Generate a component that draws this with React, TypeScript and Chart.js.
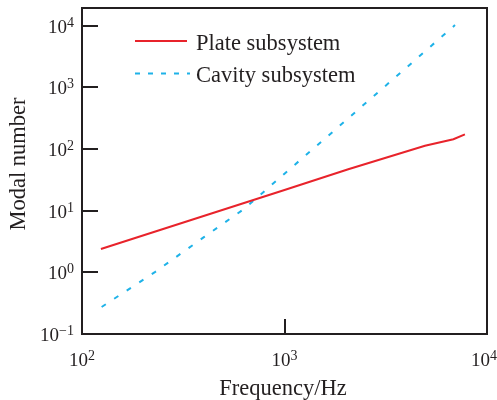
import React, { useEffect, useRef } from "react";
import { Chart, registerables } from "chart.js";

Chart.register(...registerables);

// Plate subsystem: modal count vs frequency
const PLATE_FREQ = [124, 1000, 2065, 4940, 6825, 7780];
const PLATE_MODES = [2.39, 21.7, 46.9, 113, 144, 173];

// Cavity subsystem: modal count vs frequency
const CAVITY_FREQ = [125, 230, 400, 630, 1000, 1600, 2400, 4000, 6950];
const CAVITY_MODES = [0.274, 1.02, 3.72, 10.6, 39.9, 152, 486, 2094, 10260];

// Axis ticks (powers of ten) and their exponents
const X_TICKS = [100, 1000, 10000];
const X_EXP = ["2", "3", "4"];
const Y_TICKS = [0.1, 1, 10, 100, 1000, 10000];
const Y_EXP = ["\u22121", "0", "1", "2", "3", "4"];

const SERIES_NAMES = ["Plate subsystem", "Cavity subsystem"];
const X_TITLE = "Frequency/Hz";
const Y_TITLE = "Modal number";

const RED = "#e8232b";
const BLUE = "#1eb2e8";
const INK = "#231f20";
const FONT = "'Liberation Serif', 'Times New Roman', serif";
const TEXT_FONT = `22.5px ${FONT}`;

function drawPower(
  ctx: CanvasRenderingContext2D,
  exp: string,
  x: number,
  y: number,
  align: "center" | "right",
  maxRight: number
) {
  ctx.save();
  ctx.fillStyle = INK;
  ctx.textBaseline = "alphabetic";
  ctx.textAlign = "left";
  ctx.font = `19px ${FONT}`;
  const wBase = ctx.measureText("10").width;
  ctx.font = `14px ${FONT}`;
  const wSup = ctx.measureText(exp).width;
  const total = wBase + wSup;
  let start = align === "center" ? x - total / 2 : x - total;
  if (start + total > maxRight) start = maxRight - total;
  const baseline = y + 7;
  ctx.font = `19px ${FONT}`;
  ctx.fillText("10", start, baseline);
  ctx.font = `14px ${FONT}`;
  ctx.fillText(exp, start + wBase, baseline - 6);
  ctx.restore();
}

const decorPlugin = {
  id: "decor",
  afterDraw(chart: any) {
    const ctx: CanvasRenderingContext2D = chart.ctx;
    const { left, right, top, bottom } = chart.chartArea;
    const xs = chart.scales.x;
    const ys = chart.scales.y;
    const edge = chart.width;

    ctx.save();
    // frame
    ctx.strokeStyle = INK;
    ctx.lineWidth = 2;
    ctx.strokeRect(left, top, right - left, bottom - top);

    // inward ticks on left axis
    Y_TICKS.forEach((v) => {
      const py = Math.round(ys.getPixelForValue(v));
      if (py <= top + 1 || py >= bottom - 1) return;
      ctx.beginPath();
      ctx.moveTo(left, py);
      ctx.lineTo(left + 16, py);
      ctx.stroke();
    });
    // inward ticks on bottom axis
    X_TICKS.forEach((v) => {
      const px = Math.round(xs.getPixelForValue(v));
      if (px <= left + 1 || px >= right - 1) return;
      ctx.beginPath();
      ctx.moveTo(px, bottom);
      ctx.lineTo(px, bottom - 15);
      ctx.stroke();
    });
    ctx.restore();

    // tick labels
    Y_TICKS.forEach((v, i) => {
      drawPower(ctx, Y_EXP[i], left - 8, ys.getPixelForValue(v), "right", edge);
    });
    X_TICKS.forEach((v, i) => {
      drawPower(ctx, X_EXP[i], xs.getPixelForValue(v), bottom + 25, "center", edge);
    });

    // axis titles
    ctx.save();
    ctx.fillStyle = INK;
    ctx.font = TEXT_FONT;
    ctx.textAlign = "center";
    ctx.textBaseline = "alphabetic";
    ctx.fillText(X_TITLE, 283, 395);
    ctx.translate(25, 164);
    ctx.rotate(-Math.PI / 2);
    ctx.fillText(Y_TITLE, 0, 0);
    ctx.restore();

    // legend
    ctx.save();
    ctx.lineWidth = 2;
    ctx.strokeStyle = RED;
    ctx.beginPath();
    ctx.moveTo(135, 41);
    ctx.lineTo(187, 41);
    ctx.stroke();
    ctx.strokeStyle = BLUE;
    ctx.setLineDash([5, 8]);
    ctx.beginPath();
    ctx.moveTo(135, 73.5);
    ctx.lineTo(190, 73.5);
    ctx.stroke();
    ctx.setLineDash([]);
    ctx.fillStyle = INK;
    ctx.font = TEXT_FONT;
    ctx.textAlign = "left";
    ctx.textBaseline = "alphabetic";
    ctx.fillText(SERIES_NAMES[0], 196, 50);
    ctx.fillText(SERIES_NAMES[1], 196, 82);
    ctx.restore();
  },
};

export default function App() {
  const canvasRef = useRef<HTMLCanvasElement | null>(null);

  useEffect(() => {
    if (!canvasRef.current) return;
    const chart = new Chart(canvasRef.current, {
      type: "line",
      data: {
        datasets: [
          {
            label: SERIES_NAMES[0],
            data: PLATE_FREQ.map((f, i) => ({ x: f, y: PLATE_MODES[i] })),
            borderColor: RED,
            borderWidth: 2,
            pointRadius: 0,
            fill: false,
            tension: 0,
          },
          {
            label: SERIES_NAMES[1],
            data: CAVITY_FREQ.map((f, i) => ({ x: f, y: CAVITY_MODES[i] })),
            borderColor: BLUE,
            borderWidth: 2,
            borderDash: [5, 10],
            pointRadius: 0,
            fill: false,
            tension: 0,
          },
        ],
      },
      options: {
        animation: false,
        responsive: true,
        maintainAspectRatio: false,
        layout: { padding: { left: 82, top: 8, right: 10, bottom: 66 } },
        plugins: { legend: { display: false }, tooltip: { enabled: false } },
        scales: {
          x: { type: "logarithmic", min: 100, max: 10000, display: false },
          y: { type: "logarithmic", min: 0.1, max: 19400, display: false },
        },
      },
      plugins: [decorPlugin],
    });
    return () => chart.destroy();
  }, []);

  return (
    <div style={{ position: "absolute", left: 0, top: 0, width: 497, height: 400, background: "#fff" }}>
      <canvas ref={canvasRef} />
    </div>
  );
}
